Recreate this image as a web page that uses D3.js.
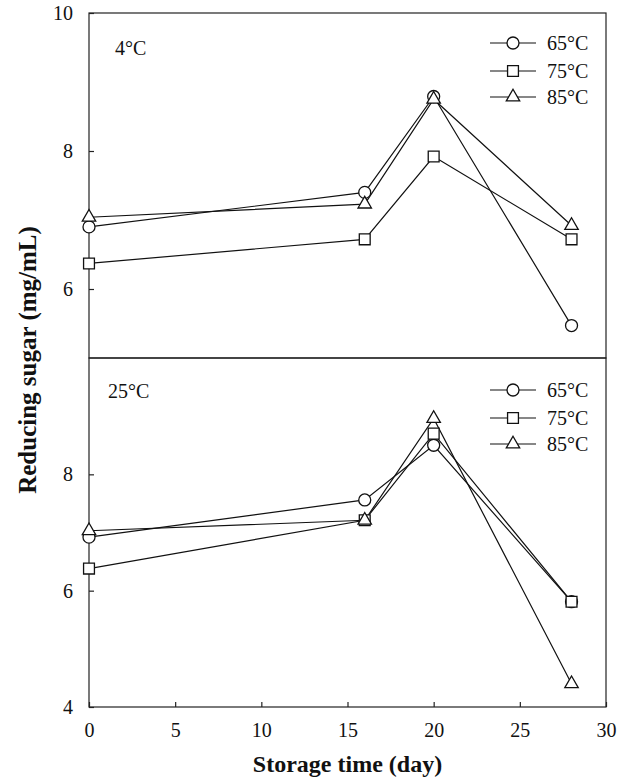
<!DOCTYPE html>
<html>
<head>
<meta charset="utf-8">
<script src="https://cdn.jsdelivr.net/npm/d3@7"></script>
<style>
  html, body { margin: 0; padding: 0; background: #fff; }
  text { font-family: "Liberation Serif", "DejaVu Serif", serif; fill: #111; }
</style>
</head>
<body>
<svg id="chart" width="630" height="784"></svg>
<script>
// storage days and the three heating temperatures
var days = [0, 16, 20, 28];
var seriesNames = ["65°C", "75°C", "85°C"];
var symbols = ["circle", "square", "triangle"];

// reducing sugar (mg/mL), stored at 4°C
var cold65 = [6.90, 7.40, 8.79, 5.47];
var cold75 = [6.37, 6.72, 7.92, 6.72];
var cold85 = [7.04, 7.23, 8.75, 6.92];

// reducing sugar (mg/mL), stored at 25°C
var warm65 = [6.92, 7.56, 8.50, 5.81];
var warm75 = [6.38, 7.21, 8.70, 5.81];
var warm85 = [7.03, 7.21, 8.96, 4.40];

var xTicks = [0, 5, 10, 15, 20, 25, 30];
var topTicks = [6, 8, 10];
var bottomTicks = [4, 6, 8];

var plotLeft = 89, plotRight = 606,
    plotTop = 13, plotMid = 358, plotBottom = 707;

var svg = d3.select("#chart");

var x = d3.scaleLinear().domain([0, 30]).range([plotLeft, plotRight]);

var panels = [
    {label: "4°C", series: [cold65, cold75, cold85], domain: [5, 10], range: [plotMid, plotTop], ticks: topTicks,
     labelPos: [115, 55], legendY: [43, 71, 97]},
    {label: "25°C", series: [warm65, warm75, warm85], domain: [4, 10], range: [plotBottom, plotMid], ticks: bottomTicks,
     labelPos: [108, 398], legendY: [390, 418, 444]}
];

function symbolPath(kind) {
    if (kind === "circle") return d3.symbol().type(d3.symbolCircle).size(113)();
    if (kind === "square") return d3.symbol().type(d3.symbolSquare).size(118)();
    return d3.symbol().type(d3.symbolTriangle).size(78)();
}

panels.forEach(function(p) {
    var y = d3.scaleLinear().domain(p.domain).range(p.range);
    var g = svg.append("g");

    // frame
    g.append("rect")
        .attr("x", plotLeft)
        .attr("y", p.range[1])
        .attr("width", plotRight - plotLeft)
        .attr("height", p.range[0] - p.range[1])
        .attr("fill", "none")
        .attr("stroke", "#222")
        .attr("stroke-width", 1.2);

    // y axis, ticks pointing inside
    var yAxis = d3.axisLeft(y)
        .tickValues(p.ticks)
        .tickSize(-5)
        .tickPadding(16)
        .tickFormat(d3.format("d"));
    var ya = g.append("g")
        .attr("transform", "translate(" + plotLeft + ",0)")
        .call(yAxis);
    ya.select(".domain").remove();
    ya.selectAll("line").attr("stroke", "#222").attr("stroke-width", 1.2);
    ya.selectAll("text")
        .style("font-family", "Liberation Serif")
        .style("font-size", "20px")
        .attr("fill", "#111");

    // panel label
    g.append("text")
        .attr("x", p.labelPos[0])
        .attr("y", p.labelPos[1])
        .style("font-size", "20px")
        .text(p.label);

    // lines
    var line = d3.line()
        .x(function(d, i) { return x(days[i]); })
        .y(function(d) { return y(d); });

    p.series.forEach(function(s) {
        g.append("path")
            .datum(s)
            .attr("d", line)
            .attr("fill", "none")
            .attr("stroke", "#111")
            .attr("stroke-width", 1.2);
    });

    // markers
    p.series.forEach(function(s, si) {
        g.selectAll(".m" + si)
            .data(s)
            .enter()
            .append("path")
            .attr("class", "m" + si)
            .attr("d", symbolPath(symbols[si]))
            .attr("transform", function(d, i) {
                return "translate(" + x(days[i]) + "," + y(d) + ")";
            })
            .attr("fill", "#fff")
            .attr("stroke", "#111")
            .attr("stroke-width", 1.3);
    });

    // legend
    seriesNames.forEach(function(name, si) {
        var ly = p.legendY[si];
        g.append("line")
            .attr("x1", 490).attr("x2", 536)
            .attr("y1", ly).attr("y2", ly)
            .attr("stroke", "#111")
            .attr("stroke-width", 1.2);
        g.append("path")
            .attr("d", symbolPath(symbols[si]))
            .attr("transform", "translate(513," + ly + ")")
            .attr("fill", "#fff")
            .attr("stroke", "#111")
            .attr("stroke-width", 1.3);
        g.append("text")
            .attr("x", 547)
            .attr("y", ly + 7)
            .style("font-size", "20px")
            .text(name);
    });
});

// x axis on the bottom panel, ticks inside
var xAxis = d3.axisBottom(x)
    .tickValues(xTicks)
    .tickSize(-5)
    .tickPadding(16);
var xa = svg.append("g")
    .attr("transform", "translate(0," + plotBottom + ")")
    .call(xAxis);
xa.select(".domain").remove();
xa.selectAll("line").attr("stroke", "#222").attr("stroke-width", 1.2);
xa.selectAll("text")
    .style("font-family", "Liberation Serif")
    .style("font-size", "20px")
    .attr("fill", "#111");

// axis titles
svg.append("text")
    .attr("x", (plotLeft + plotRight) / 2)
    .attr("y", 772)
    .attr("text-anchor", "middle")
    .style("font-size", "24px")
    .style("font-weight", "bold")
    .text("Storage time (day)");

svg.append("text")
    .attr("transform", "translate(36," + (plotTop + plotBottom) / 2 + ") rotate(-90)")
    .attr("text-anchor", "middle")
    .style("font-size", "25px")
    .style("font-weight", "bold")
    .text("Reducing sugar (mg/mL)");
</script>
</body>
</html>
